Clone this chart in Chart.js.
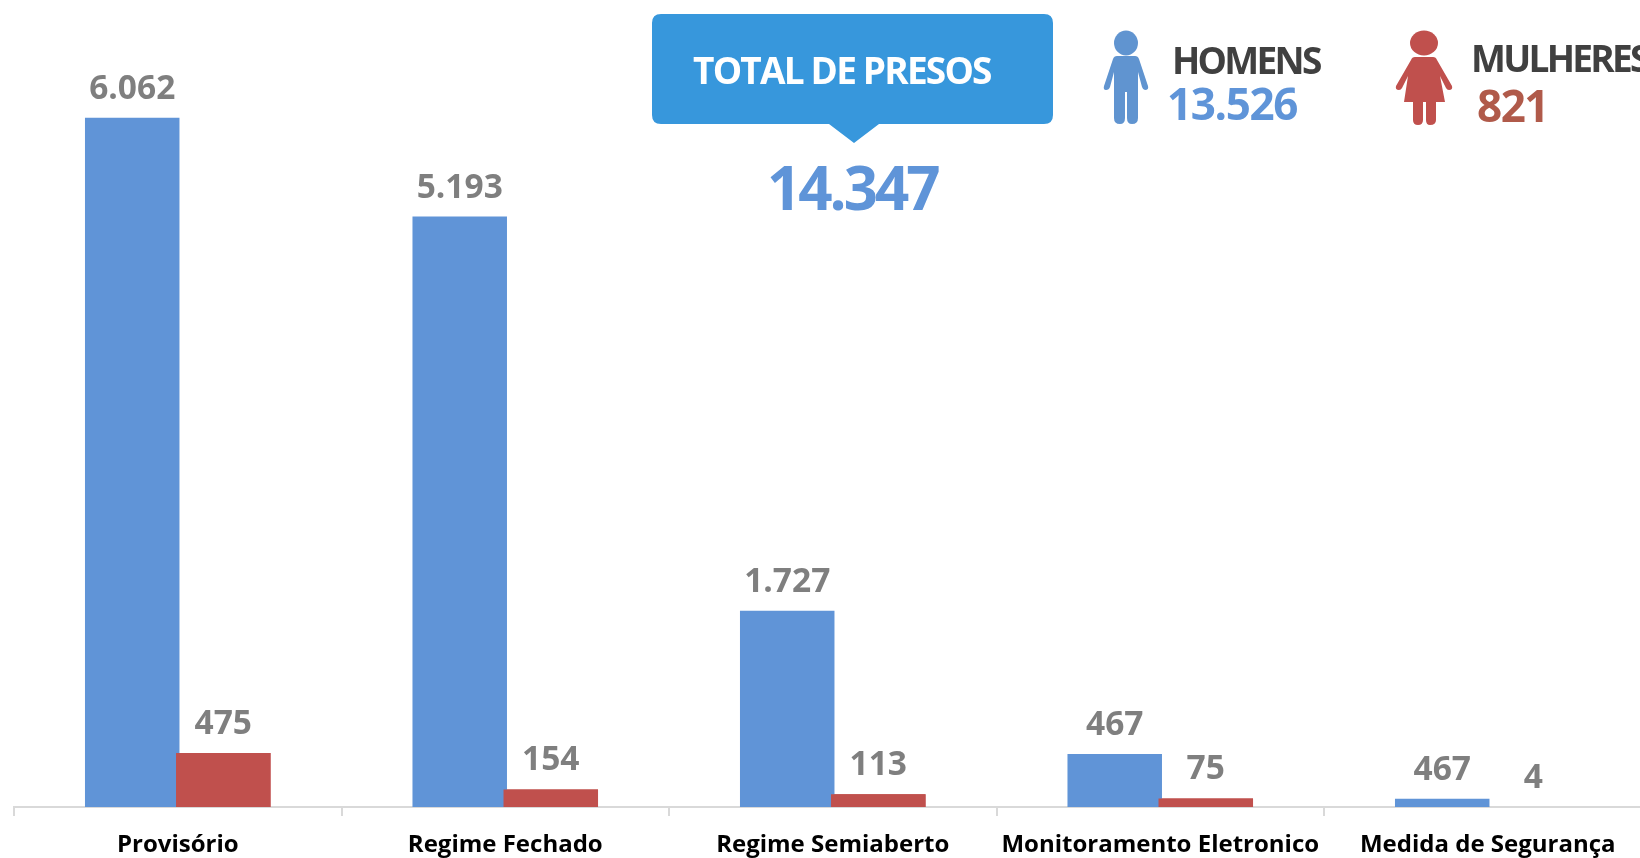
<!DOCTYPE html>
<html lang="pt-BR">
<head>
<meta charset="utf-8">
<title>Total de presos</title>
<script src="https://cdn.jsdelivr.net/npm/chart.js@4/dist/chart.umd.min.js"></script>
<style>
  html, body { margin: 0; padding: 0; width: 1640px; height: 858px; overflow: hidden; background: #fff; }
  #grafico { position: absolute; left: 0; top: 0; }
  .txt { position: absolute; font-family: "Open Sans", sans-serif; font-weight: 700; white-space: nowrap; line-height: 1; }
  svg { position: absolute; left: 0; top: 0; }
</style>
</head>
<body>
<canvas id="grafico" width="1660" height="858"></canvas>

<svg width="1640" height="858">
  <path fill="#3797dc" d="M661 14H1044Q1053 14 1053 23V115Q1053 124 1044 124H879L854 143L829 124H661Q652 124 652 115V23Q652 14 661 14Z"/>
  <g fill="#6094d0">
    <ellipse cx="1126" cy="43" rx="12" ry="12.5"/>
    <path d="M1117 56H1135Q1138 56 1139 59L1148 86Q1149 90 1145 90Q1143 90 1142 87L1138 72V118Q1138 124 1132 124Q1127 124 1127 118V92H1125V118Q1125 124 1120 124Q1114 124 1114 118V72L1110 87Q1109 90 1106 90Q1103 90 1104 86L1113 59Q1114 56 1117 56Z"/>
  </g>
  <g fill="#c0504d">
    <ellipse cx="1424" cy="43" rx="14" ry="12.5"/>
    <path d="M1415 57H1433Q1436 57 1437 60L1452 86Q1453 90 1449 90Q1447 90 1446 88L1440 76L1445 102H1436V120Q1436 125 1430 125Q1426 125 1426 120V102H1423V120Q1423 125 1418 125Q1413 125 1413 120V102H1404L1408 76L1402 88Q1401 90 1399 90Q1395 90 1396 86L1411 60Q1412 57 1415 57Z"/>
  </g>
</svg>

<div class="txt" style="left:693px;top:51px;font-size:37px;color:#fff;letter-spacing:-1.8px">TOTAL DE PRESOS</div>
<div class="txt" style="left:767px;top:157px;font-size:60px;color:#5f94d8;letter-spacing:-3px">14.347</div>
<div class="txt" style="left:1172px;top:41px;font-size:37px;color:#404040;letter-spacing:-2.7px">HOMENS</div>
<div class="txt" style="left:1167px;top:81px;font-size:44px;color:#5f94d8;letter-spacing:-1.4px">13.526</div>
<div class="txt" style="left:1471px;top:39px;font-size:37px;color:#404040;letter-spacing:-2.7px">MULHERES</div>
<div class="txt" style="left:1477px;top:83px;font-size:44px;color:#b05a4a;letter-spacing:-1.5px">821</div>

<script>
const regimes = ["Provisório", "Regime Fechado", "Regime Semiaberto", "Monitoramento Eletronico", "Medida de Segurança"];

// alturas lidas das barras (na ultima categoria as barras nao batem com os rotulos 467 e 4)
const homens = [6062, 5193, 1727, 467, 72];
const mulheres = [475, 154, 113, 75, 0];

const rotulosHomens = ["6.062", "5.193", "1.727", "467", "467"];
const rotulosMulheres = ["475", "154", "113", "75", "4"];

const AZUL = "#6094d7";
const VERMELHO = "#c0504d";

// barras vermelhas por cima das azuis + rotulos acima das barras
const rotulosPlugin = {
  id: "rotulos",
  afterDatasetsDraw(chart) {
    const ctx = chart.ctx;
    chart.getDatasetMeta(1).data.forEach(bar => bar.draw(ctx));
    ctx.save();
    ctx.font = '700 33.5px "Open Sans", sans-serif';
    ctx.fillStyle = "#7f7f7f";
    ctx.textAlign = "center";
    ctx.textBaseline = "alphabetic";
    [rotulosHomens, rotulosMulheres].forEach((rotulos, d) => {
      chart.getDatasetMeta(d).data.forEach((bar, i) => {
        ctx.fillText(rotulos[i], bar.x, bar.y - 19);
      });
    });
    ctx.restore();
  }
};

new Chart(document.getElementById("grafico"), {
  type: "bar",
  data: {
    labels: regimes,
    datasets: [
      { label: "Homens", data: homens, backgroundColor: AZUL },
      { label: "Mulheres", data: mulheres, backgroundColor: VERMELHO }
    ]
  },
  plugins: [rotulosPlugin],
  options: {
    responsive: false,
    animation: false,
    layout: { padding: { left: 14, right: 8.5, top: 0, bottom: 0 } },
    categoryPercentage: 0.556,
    barPercentage: 1.038,
    plugins: { legend: { display: false }, tooltip: { enabled: false }, title: { display: false } },
    scales: {
      y: { display: false, min: 0, max: 7098, grid: { display: false } },
      x: {
        afterFit(scale) { scale.height = 51; },
        border: { color: "#d9d9d9", width: 2 },
        grid: { drawOnChartArea: false, color: "#d9d9d9", tickLength: 9, lineWidth: 2 },
        ticks: {
          color: "#000",
          maxRotation: 0,
          autoSkip: false,
          padding: 15,
          font: { family: '"Open Sans", sans-serif', weight: "700", size: 24 }
        }
      }
    }
  }
});
</script>
</body>
</html>
